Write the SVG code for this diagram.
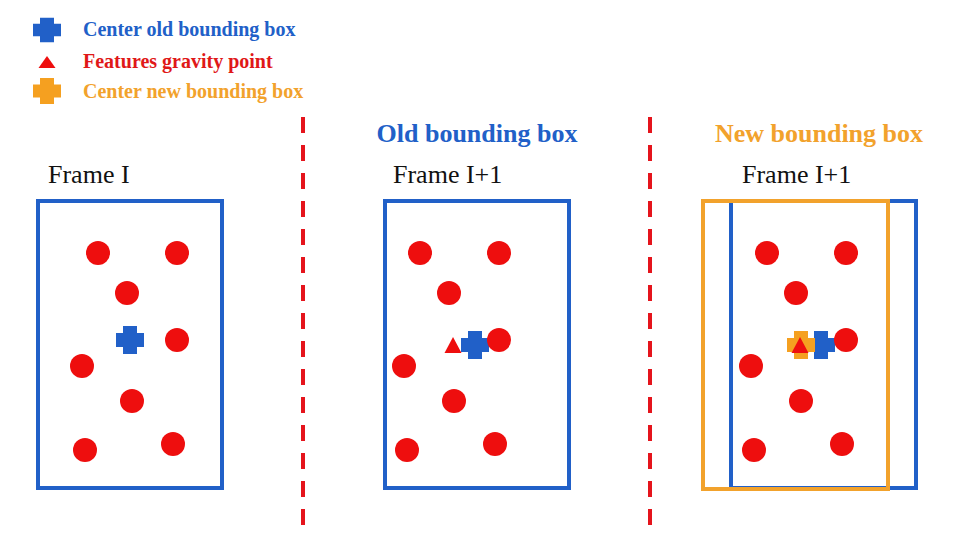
<svg xmlns="http://www.w3.org/2000/svg" xmlns:xlink="http://www.w3.org/1999/xlink" width="953" height="537" viewBox="0 0 953 537">
  <style>
    .lg{font-family:"Liberation Serif","Times New Roman",serif;font-weight:bold;font-size:20px}
    .title{font-family:"Liberation Serif","Times New Roman",serif;font-weight:bold;font-size:26px}
    .frame{font-family:"Liberation Serif","Times New Roman",serif;font-size:26px;fill:#111}
    .box{fill:none;stroke-width:4}
    .bb{stroke:#2160c8}
    .ob{stroke:#f2a22c}
    .dot{fill:#ee0e0e}
    .sep{stroke:#e5141c;stroke-width:4;stroke-dasharray:16 12}
  </style>
  <defs>
    <path id="cross" d="M-7,-14H7V-7H14V7H7V14H-7V7H-14V-7H-7Z"/>
    <path id="tri" d="M0,-8L8.5,8H-8.5Z"/>
    <g id="dots">
      <circle cx="0" cy="0" r="12"/>
      <circle cx="79" cy="0" r="12"/>
      <circle cx="29" cy="40" r="12"/>
      <circle cx="79" cy="87" r="12"/>
      <circle cx="-16" cy="113" r="12"/>
      <circle cx="34" cy="148" r="12"/>
      <circle cx="-13" cy="197" r="12"/>
      <circle cx="75" cy="191" r="12"/>
    </g>
  </defs>

  <g id="legend">
    <use xlink:href="#cross" transform="translate(47,30) scale(1,0.88)" fill="#2160c8"/>
    <text class="lg" x="83" y="36" fill="#2160c8">Center old bounding box</text>
    <use xlink:href="#tri" transform="translate(47,62) scale(1,0.75)" fill="#ee0e0e"/>
    <text class="lg" x="83" y="68" fill="#e01818">Features gravity point</text>
    <use xlink:href="#cross" transform="translate(47,91) scale(1,0.93)" fill="#f5a020"/>
    <text class="lg" x="83" y="98" fill="#f2a22c">Center new bounding box</text>
  </g>

  <g id="separators">
    <line class="sep" x1="303" y1="117" x2="303" y2="527"/>
    <line class="sep" x1="650" y1="117" x2="650" y2="527"/>
  </g>

  <g id="frame1">
    <text class="frame" x="48" y="183">Frame I</text>
    <rect class="box bb" x="38" y="201" width="184" height="287"/>
    <use xlink:href="#dots" class="dot" transform="translate(98,253)"/>
    <use xlink:href="#cross" transform="translate(130,340)" fill="#2160c8"/>
  </g>

  <g id="frame2">
    <text class="title" x="477" y="142" text-anchor="middle" fill="#2160c8">Old bounding box</text>
    <text class="frame" x="393" y="183">Frame I+1</text>
    <rect class="box bb" x="385" y="201" width="184" height="287"/>
    <use xlink:href="#cross" transform="translate(475,345)" fill="#2160c8"/>
    <use xlink:href="#dots" class="dot" transform="translate(420,253)"/>
    <use xlink:href="#tri" transform="translate(453,345)" fill="#ee0e0e"/>
  </g>

  <g id="frame3">
    <text class="title" x="819" y="142" text-anchor="middle" fill="#f2a22c">New bounding box</text>
    <text class="frame" x="742" y="183">Frame I+1</text>
    <rect class="box bb" x="731" y="201" width="185" height="287"/>
    <rect class="box ob" x="703" y="201" width="185" height="288"/>
    <use xlink:href="#cross" transform="translate(821,345)" fill="#2160c8"/>
    <use xlink:href="#dots" class="dot" transform="translate(767,253)"/>
    <use xlink:href="#cross" transform="translate(801,345)" fill="#f5a020"/>
    <use xlink:href="#tri" transform="translate(800,345)" fill="#ee0e0e"/>
  </g>
</svg>
